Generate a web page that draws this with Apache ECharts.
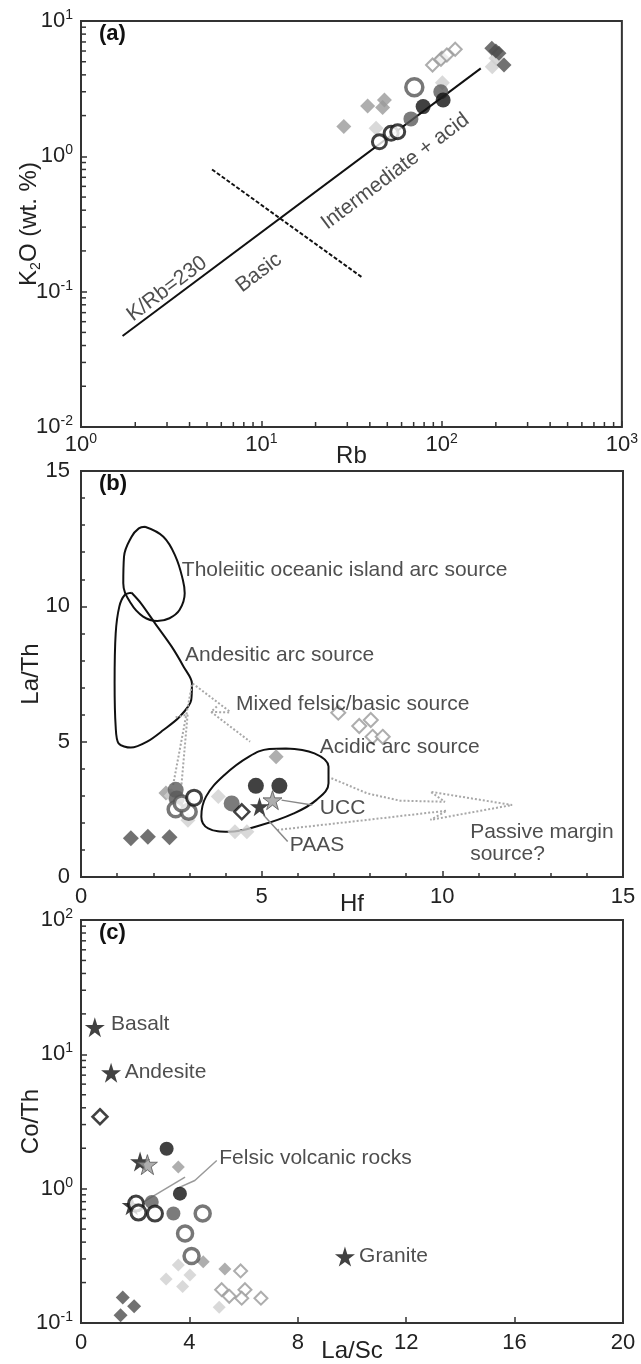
<!DOCTYPE html>
<html><head><meta charset="utf-8">
<script src="https://cdn.jsdelivr.net/npm/echarts@6/dist/echarts.min.js"></script>
<style>html,body{margin:0;padding:0;background:#fff}#c{width:641px;height:1364px}</style>
</head><body><div id="c"></div>
<script>
// ================= DATA =================
// Panel (a): Rb (ppm) vs K2O (wt.%)
const aBlackCircle = [[79,2.33],[102,2.61]];
const aDarkCircle = [[67.6,1.89],[99,3.0]];
const aOpenBlackCircle = [[45.2,1.28],[52.5,1.48],[57.1,1.52]];
const aOpenGrayCircle = [[70.6,3.24]];
const aDarkDiamond = [[190,6.28],[200,6.0],[208,5.77],[222,4.73]];
const aMidDiamond = [[28.7,1.66],[38.9,2.35],[48.2,2.61],[47.1,2.30],[100.5,5.35]];
const aLightDiamond = [[43.3,1.61],[101,3.5],[191,4.59],[200,5.3]];
const aOpenDiamond = [[89.1,4.73],[99.2,5.21],[107,5.61],[119,6.18]];
const aRefLine = [[1.7,0.047],[165,4.47]];          // K/Rb = 230
const aDivider = [[5.33,0.80],[36.1,0.128]];         // basic / intermediate+acid
const aNotes = [[3.0,0.105,'K/Rb=230'],[9.7,0.138,'Basic'],[55.3,0.773,'Intermediate + acid']];

// Panel (b): Hf vs La/Th
const bBlackCircle = [[4.84,3.37],[5.49,3.37]];
const bDarkCircle = [[2.62,3.22],[2.65,2.9],[4.17,2.72]];
const bOpenBlackCircle = [[3.13,2.93]];
const bOpenGrayCircle = [[2.62,2.5],[2.98,2.41],[2.79,2.72]];
const bDarkDiamond = [[1.38,1.43],[1.85,1.49],[2.45,1.47]];
const bMidDiamond = [[2.35,3.1],[5.40,4.44]];
const bLightDiamond = [[2.5,3.0],[2.96,2.1],[3.80,2.97],[4.26,1.67],[4.59,1.67]];
const bOpenDiamond = [[7.12,6.07],[7.70,5.58],[8.02,5.80],[8.07,5.18],[8.35,5.18]];
const bBlackOpenDiamond = [[4.45,2.41]];
const bPAAS = [[4.94,2.60]];
const bUCC = [[5.30,2.84]];
const bTholeiitic = [[1.77,12.94],[2.28,12.57],[2.62,11.83],[2.82,10.97],[2.87,10.48],[2.73,9.87],[2.45,9.56],[2.11,9.46],[1.72,9.62],[1.38,10.11],[1.17,10.85],[1.19,11.83],[1.40,12.57],[1.60,12.88],[1.77,12.94]];
const bAndesitic = [[1.40,10.50],[1.66,10.11],[2.05,9.37],[2.51,8.51],[2.84,7.77],[3.07,7.16],[3.05,6.54],[2.73,5.92],[2.28,5.43],[1.83,5.00],[1.38,4.78],[1.04,4.94],[0.96,5.55],[0.93,7.16],[0.96,9.0],[1.06,9.99],[1.21,10.42],[1.40,10.50]];
const bAcidic = [[5.67,4.75],[6.46,4.57],[6.85,4.08],[6.85,3.46],[6.51,2.84],[5.89,2.35],[4.99,1.92],[4.09,1.67],[3.52,1.80],[3.33,2.23],[3.46,2.97],[3.97,3.77],[4.65,4.45],[5.21,4.73],[5.67,4.75]];
const bArrows = [
  [[6.93,3.65],[7.92,3.09],[8.83,2.82],[10.07,2.78],[9.67,3.15],[11.93,2.66],[9.67,2.11],[10.12,2.45],[7.92,2.11],[5.44,1.74]],
  [[3.09,7.15],[4.12,6.11]],
  [[4.1,6.08],[3.6,6.1],[3.8,6.35]],
  [[3.6,6.1],[4.68,5.0]],
  [[3.07,7.1],[2.55,3.4]],
  [[2.95,6.0],[2.78,3.4]],
  [[2.62,5.9],[2.95,6.0]]
];
const bPointers = [[[5.55,2.84],[6.4,2.66]],[[5.05,2.29],[5.72,1.31]]];
const bNotes = [[2.79,11.34,'Tholeiitic oceanic island arc source'],[2.88,8.2,'Andesitic arc source'],[4.29,6.4,'Mixed felsic/basic source'],[6.61,4.81,'Acidic arc source'],[6.61,2.54,'UCC'],[5.78,1.18,'PAAS'],[10.77,1.64,'Passive margin'],[10.77,0.85,'source?']];

// Panel (c): La/Sc vs Co/Th
const cBlackCircle = [[3.16,1.98],[3.65,0.918]];
const cDarkCircle = [[2.61,0.796],[3.41,0.653]];
const cOpenBlackCircle = [[2.03,0.774],[2.12,0.664],[2.73,0.653]];
const cOpenGrayCircle = [[4.49,0.653],[3.84,0.464],[4.08,0.315]];
const cDarkDiamond = [[1.54,0.155],[1.96,0.133],[1.46,0.114]];
const cMidDiamond = [[3.59,1.45],[4.51,0.286],[5.31,0.252]];
const cLightDiamond = [[3.59,0.270],[3.14,0.213],[3.75,0.187],[4.02,0.228],[5.10,0.131]];
const cOpenDiamond = [[5.89,0.244],[5.19,0.177],[5.47,0.158],[6.05,0.177],[5.93,0.153],[6.64,0.153]];
const cBlackOpenDiamond = [[0.70,3.43]];
const cBlackStar = [[0.51,15.9],[1.11,7.3],[2.18,1.59],[1.87,0.751],[9.74,0.312]];
const cGrayStar = [[2.45,1.51]];
const cPointers = [[[5.01,1.62],[4.2,1.15],[3.53,1.0]],[[3.84,1.22],[2.28,0.79]]];
const cNotes = [[1.11,16.7,'Basalt'],[1.61,7.3,'Andesite'],[5.10,1.69,'Felsic volcanic rocks'],[10.26,0.312,'Granite']];

// axis ranges / ticks
const aX = [1,1000], aY = [0.01,10];
const bX = [0,15], bY = [0,15];
const cX = [0,20], cY = [0.1,100];

// ================= CHART =================
const FONT = '"Liberation Sans", Arial, sans-serif';
const STAR = 'path://M50,2 L61.2,36.2 L97.6,36.2 L68.2,57.4 L79.4,91.8 L50,70.6 L20.6,91.8 L31.8,57.4 L2.4,36.2 L38.8,36.2 Z';
const ST = {
  blackCircle:{symbol:'circle', itemStyle:{color:'#111'}},
  darkCircle:{symbol:'circle', itemStyle:{color:'#5a5a5a'}},
  openBlack:{symbol:'circle', itemStyle:{color:'#fff', borderColor:'#111', borderWidth:3}},
  openGray:{symbol:'circle', itemStyle:{color:'#fff', borderColor:'#555', borderWidth:3.5}},
  darkDiamond:{symbol:'diamond', itemStyle:{color:'#4d4d4d'}},
  midDiamond:{symbol:'diamond', itemStyle:{color:'#9a9a9a'}},
  lightDiamond:{symbol:'diamond', itemStyle:{color:'#d0d0d0'}},
  openDiamond:{symbol:'diamond', itemStyle:{color:'#fff', borderColor:'#999', borderWidth:2}},
  blackOpenDiamond:{symbol:'diamond', itemStyle:{color:'#fff', borderColor:'#111', borderWidth:2.5}},
  blackStar:{symbol:STAR, itemStyle:{color:'#111'}},
  grayStar:{symbol:STAR, itemStyle:{color:'#9a9a9a', borderColor:'#555', borderWidth:1}}
};
const series = [];
function pts(g, data, style, size, z){
  series.push(Object.assign({type:'scatter', xAxisIndex:g, yAxisIndex:g, data:data, symbolSize:size, z:z||3, silent:true}, JSON.parse(JSON.stringify(style)), {symbol:style.symbol}));
}
function line(g, data, opt){
  series.push({type:'line', xAxisIndex:g, yAxisIndex:g, data:data, showSymbol:false, symbol:'none', silent:true, z:2,
    smooth:opt.smooth||false, lineStyle:{color:opt.color||'#111', width:opt.width||2, type:opt.type||'solid'}});
}
function notes(g, items, extra){
  series.push({type:'scatter', xAxisIndex:g, yAxisIndex:g, symbolSize:0, silent:true, z:10,
    data: items.map(it=>({value:[it[0],it[1]], label:{formatter:it[2]}})),
    label:Object.assign({show:true, position:'right', distance:0, fontSize:21, color:'#222', fontFamily:FONT}, extra||{})});
}
function minorLogTicks(lo, hi){ const r=[]; for(let k=lo;k<hi;k++){ for(let m=2;m<=9;m++) r.push(+(m*Math.pow(10,k)).toPrecision(3)); } return r; }
function tickSeries(g, axis, vals, other){
  series.push({type:'custom', xAxisIndex:g, yAxisIndex:g, silent:true, z:6,
    data: vals.map(v => axis==='x' ? [v, other] : [other, v]),
    renderItem(params, api){
      const p = api.coord([api.value(0), api.value(1)]);
      const L = 5;
      const shape = axis==='x' ? {x1:p[0],y1:p[1],x2:p[0],y2:p[1]-L} : {x1:p[0],y1:p[1],x2:p[0]+L,y2:p[1]};
      return {type:'line', shape:shape, style:{stroke:'#333', lineWidth:1.5}};
    }});
}

// ---- panel a
line(0, aRefLine, {width:2});
line(0, aDivider, {width:2, type:[4,2]});
pts(0, aMidDiamond, ST.midDiamond, 15);
pts(0, aLightDiamond, ST.lightDiamond, 15);
pts(0, aDarkDiamond, ST.darkDiamond, 15);
pts(0, aOpenDiamond, ST.openDiamond, 13);
pts(0, aDarkCircle, ST.darkCircle, 15, 4);
pts(0, aBlackCircle, ST.blackCircle, 15, 4);
pts(0, aOpenBlackCircle, ST.openBlack, 14, 4);
pts(0, aOpenGrayCircle, ST.openGray, 17, 4);
notes(0, aNotes, {position:'inside', rotate:37, align:'center', verticalAlign:'middle', fontSize:21});
tickSeries(0, 'x', minorLogTicks(0,3), aY[0]);
tickSeries(0, 'y', minorLogTicks(-2,1), aX[0]);

// ---- panel b
line(1, bTholeiitic, {width:2, smooth:0.4});
line(1, bAndesitic, {width:2, smooth:0.3});
line(1, bAcidic, {width:2, smooth:0.4});
bArrows.forEach(a => line(1, a, {width:2, type:'dotted', color:'#a8a8a8'}));
bPointers.forEach(a => line(1, a, {width:1.5, color:'#888'}));
pts(1, bDarkDiamond, ST.darkDiamond, 16);
pts(1, bMidDiamond, ST.midDiamond, 15);
pts(1, bLightDiamond, ST.lightDiamond, 15);
pts(1, bOpenDiamond, ST.openDiamond, 14);
pts(1, bDarkCircle, ST.darkCircle, 16, 4);
pts(1, bOpenGrayCircle, ST.openGray, 15, 4);
pts(1, bOpenBlackCircle, ST.openBlack, 15, 4);
pts(1, bBlackCircle, ST.blackCircle, 16, 4);
pts(1, bBlackOpenDiamond, ST.blackOpenDiamond, 15, 5);
pts(1, bUCC, ST.grayStar, 19, 5);
pts(1, bPAAS, ST.blackStar, 19, 5);
notes(1, bNotes);

// ---- panel c
cPointers.forEach(a => line(2, a, {width:1.5, color:'#999'}));
pts(2, cDarkDiamond, ST.darkDiamond, 14);
pts(2, cMidDiamond, ST.midDiamond, 13);
pts(2, cLightDiamond, ST.lightDiamond, 13);
pts(2, cOpenDiamond, ST.openDiamond, 13);
pts(2, cBlackOpenDiamond, ST.blackOpenDiamond, 15);
pts(2, cBlackStar, ST.blackStar, 20, 4);
pts(2, cGrayStar, ST.grayStar, 20, 4);
pts(2, cDarkCircle, ST.darkCircle, 14, 5);
pts(2, cBlackCircle, ST.blackCircle, 14, 5);
pts(2, cOpenBlackCircle, ST.openBlack, 15, 5);
pts(2, cOpenGrayCircle, ST.openGray, 15, 5);
notes(2, cNotes);
tickSeries(2, 'y', minorLogTicks(-1,2), cX[0]);

const supFmt = v => '{b|10}{s|' + Math.round(Math.log10(v)) + '}';
const supRich = {b:{fontSize:22, fontFamily:FONT, color:'#222', lineHeight:26}, s:{fontSize:14, fontFamily:FONT, color:'#222', verticalAlign:'top', lineHeight:15}};
const tick = {show:true, inside:true, length:6, lineStyle:{color:'#333', width:1.5}};
const lbl = m => ({fontSize:22, color:'#222', fontFamily:FONT, margin:m});
function ax(g, type, rng, extra){
  return Object.assign({gridIndex:g, type:type, min:rng[0], max:rng[1], splitLine:{show:false},
    axisLine:{show:false}, axisTick:tick, nameMoveOverlap:false,
    axisLabel:lbl(8),
    nameLocation:'middle', nameTextStyle:{fontSize:24, color:'#222', fontFamily:FONT}}, extra);
}
const grid = t => ({left:81, top:t, width:542, height:406, show:true, borderColor:'#333', borderWidth:2, backgroundColor:'#fff'});
const minor = {show:true, splitNumber:5, length:4, lineStyle:{color:'#333', width:1.5}};

const option = {
  animation:false,
  backgroundColor:'#fff',
  grid:[grid(21), grid(471), Object.assign(grid(920),{height:405})],
  xAxis:[
    ax(0,'log',aX,{logBase:10, name:'Rb', nameGap:17, axisLabel:{formatter:supFmt, rich:supRich, margin:5}}),
    ax(1,'value',bX,{interval:5, name:'Hf', nameGap:15, minorTick:minor, axisLabel:lbl(9)}),
    ax(2,'value',cX,{interval:4, name:'La/Sc', nameGap:16, axisLabel:lbl(9)})
  ],
  yAxis:[
    ax(0,'log',aY,{logBase:10, name:'{t|K}{sub|2}{t|O (wt. %)}', nameGap:38,
      nameTextStyle:{rich:{t:{fontSize:24, color:'#222', fontFamily:FONT, lineHeight:28}, sub:{fontSize:14, color:'#222', fontFamily:FONT, verticalAlign:'bottom', lineHeight:15}}},
      axisLabel:{formatter:supFmt, rich:supRich, margin:8}}),
    ax(1,'value',bY,{interval:5, name:'La/Th', nameGap:38, minorTick:minor, axisLabel:lbl(11)}),
    ax(2,'log',cY,{logBase:10, name:'Co/Th', nameGap:38, axisLabel:{formatter:supFmt, rich:supRich, margin:8}})
  ],
  graphic:[
    {type:'text', left:99, top:23, style:{text:'(a)', font:'bold 22px '+FONT, fill:'#111'}},
    {type:'text', left:99, top:473, style:{text:'(b)', font:'bold 22px '+FONT, fill:'#111'}},
    {type:'text', left:99, top:922, style:{text:'(c)', font:'bold 22px '+FONT, fill:'#111'}}
  ],
  series: series
};
const chart = echarts.init(document.getElementById('c'), null, {renderer:'canvas'});
chart.setOption(option);
</script></body></html>
